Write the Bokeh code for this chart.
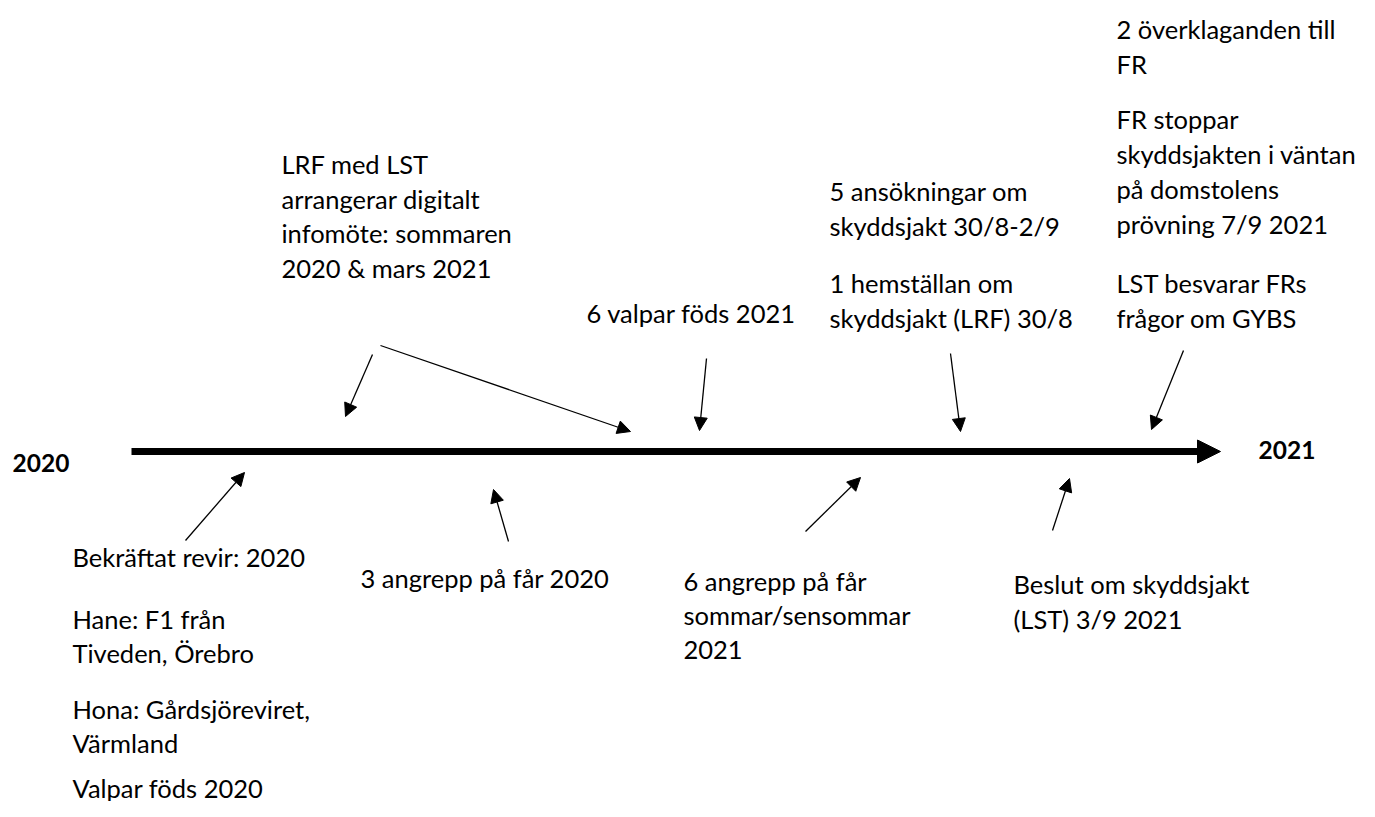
from bokeh.plotting import figure
from bokeh.models import Range1d, Arrow, NormalHead, ColumnDataSource
from bokeh.core.properties import value
from bokeh.embed import file_html
from bokeh.resources import INLINE

# ---- data -------------------------------------------------------------
year_labels = ["2020", "2021"]
year_x = [12, 1258]
year_y = [462, 449]

# main timeline
axis_start = 131
axis_end = 1198
axis_tip = 1220
axis_y = 451

# event text lines (one entry per printed line)
label_text = [
    "Bekräftat revir: 2020",
    "Hane: F1 från", "Tiveden, Örebro",
    "Hona: Gårdsjöreviret,", "Värmland",
    "Valpar föds 2020",
    "3 angrepp på får 2020",
    "6 angrepp på får", "sommar/sensommar", "2021",
    "Beslut om skyddsjakt", "(LST) 3/9 2021",
    "LRF med LST", "arrangerar digitalt", "infomöte: sommaren", "2020 & mars 2021",
    "6 valpar föds 2021",
    "5 ansökningar om", "skyddsjakt 30/8-2/9",
    "1 hemställan om", "skyddsjakt (LRF) 30/8",
    "2 överklaganden till", "FR",
    "FR stoppar", "skyddsjakten i väntan", "på domstolens", "prövning 7/9 2021",
    "LST besvarar FRs", "frågor om GYBS",
]
label_x = [72, 72, 72, 72, 72, 72,
           360,
           683, 683, 683,
           1013, 1013,
           281, 281, 281, 281,
           586,
           829, 829, 829, 829,
           1116, 1116, 1116, 1116, 1116, 1116, 1116, 1116]
label_y = [556, 618, 652, 708, 742, 787,
           577,
           580, 614, 649,
           583, 618,
           163, 198, 232, 267,
           312,
           190, 225, 282, 317,
           28, 63, 118, 153, 188, 223, 282, 317]

# pointer arrows: tail -> tip
arrow_x0 = [185, 508, 805, 1052, 372, 380, 706, 950, 1183]
arrow_y0 = [540, 541, 531, 530, 354, 345, 358, 353, 350]
arrow_x1 = [244, 493, 860, 1069, 345, 630, 699, 960, 1151]
arrow_y1 = [472, 489, 477, 478, 416, 431, 430, 431, 429]

# ---- figure -----------------------------------------------------------
p = figure(width=1359, height=801, output_backend="svg", toolbar_location=None,
           x_range=Range1d(0, 1359), y_range=Range1d(801, 0), min_border=0)
p.axis.visible = False
p.grid.visible = False
p.outline_line_color = None
p.background_fill_color = "white"
p.border_fill_color = "white"

FONT = value("Lato")

# main timeline line + head
p.segment(x0=[axis_start], y0=[axis_y], x1=[axis_end], y1=[axis_y],
          line_color="black", line_width=7, line_cap="butt")
p.add_layout(Arrow(end=NormalHead(size=23, fill_color="black", line_color="black", line_width=1),
                   x_start=axis_end - 2, y_start=axis_y, x_end=axis_tip, y_end=axis_y,
                   line_alpha=0))

# pointer arrows
asrc = ColumnDataSource(dict(x0=arrow_x0, y0=arrow_y0, x1=arrow_x1, y1=arrow_y1))
p.add_layout(Arrow(end=NormalHead(size=13, fill_color="black", line_color="black", line_width=1),
                   x_start="x0", y_start="y0", x_end="x1", y_end="y1",
                   line_color="black", line_width=1.3, source=asrc))

# labels
p.text(x=label_x, y=label_y, text=label_text, text_font=FONT, text_font_size="25.5px",
       text_baseline="middle", text_align="left", text_color="black")

p.text(x=year_x, y=year_y, text=year_labels, text_font=FONT, text_font_size="24.5px",
       text_font_style="bold", text_baseline="middle", text_align="left", text_color="black")

open("out.html", "w").write(file_html(p, INLINE))
